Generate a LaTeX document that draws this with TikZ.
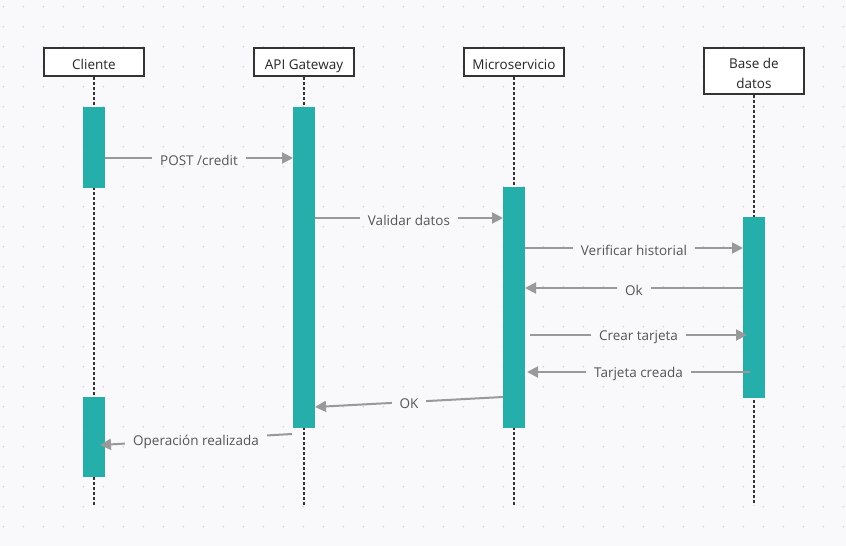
\documentclass[tikz,border=0pt]{standalone}
\usepackage{fontspec}
\setmainfont{Open Sans}
\usetikzlibrary{arrows.meta}

\definecolor{bg}{RGB}{249,249,251}
\definecolor{griddot}{RGB}{214,214,220}
\definecolor{barcol}{RGB}{38,174,170}
\definecolor{boxline}{RGB}{51,51,51}
\definecolor{arrowcol}{RGB}{153,153,153}
\definecolor{lblcol}{RGB}{85,85,85}

\tikzset{
  actor/.style={draw=boxline, line width=2pt, fill=white, minimum width=100pt,
    inner xsep=2pt, inner ysep=7pt, text height=14pt, text depth=0pt,
    align=center, text=black!85, font=\fontsize{13.5}{20}\selectfont},
  bar/.style={fill=barcol, minimum width=22pt, inner sep=0pt},
  life/.style={draw=boxline, line width=1.5pt, dash pattern=on 3pt off 2pt},
  msg/.style={draw=arrowcol, line width=2pt, -{Triangle[length=11pt,width=11pt]}},
  lbl/.style={fill=bg, text=lblcol, inner xsep=8pt, inner ysep=1pt, yshift=-2pt,
    font=\fontsize{13.5}{16}\selectfont}
}

\begin{document}
\begin{tikzpicture}[x=1pt, y=-1pt]
        % background and dot grid
        \fill[bg] (0,0) rectangle (846,546);
        \useasboundingbox (0,0) rectangle (846,546);
        \foreach \i in {0,...,42}
          \foreach \j in {0,...,26}
            \fill[griddot] (3.3+20*\i, 6.7+20*\j) circle (1pt);

        % participants
        \node[actor] (cli) at (94, 62) {Cliente};
        \node[actor] (api) at (304, 62) {API Gateway};
        \node[actor] (mic) at (514, 62) {Microservicio};
        \node[actor, text height=, text depth=, inner ysep=2pt, minimum height=46pt]
          (bd) at (754, 71) {\rule{0pt}{16pt}Base de\\datos};

        \coordinate (cliend) at (94, 505);
        \coordinate (apiend) at (304, 505);
        \coordinate (micend) at (514, 505);
        \coordinate (bdend) at (754, 505);

        \draw[life] (cli) -- (cliend);
        \draw[life] (api) -- (apiend);
        \draw[life] (mic) -- (micend);
        \draw[life] (bd) -- (bdend);

        % activation bars
        \node[bar, minimum height=81pt] (clibar1) at (94, 147.5) {};
        \node[bar, minimum height=80pt] (clibar2) at (94, 437) {};
        \node[bar, minimum height=321pt] (apibar) at (304, 267.5) {};
        \node[bar, minimum height=241pt] (micbar) at (514, 307.5) {};
        \node[bar, minimum height=181pt] (bdbar) at (754, 307.5) {};

        % message ends
        \coordinate (post0) at (105, 158);
        \coordinate (post1) at (293, 158);
        \coordinate (val0) at (315, 218);
        \coordinate (val1) at (503, 218);
        \coordinate (ver0) at (525, 248);
        \coordinate (ver1) at (743, 248);
        \coordinate (ok0) at (743, 288);
        \coordinate (ok1) at (525, 288);
        \coordinate (cre0) at (530, 335);
        \coordinate (cre1) at (747, 335);
        \coordinate (tc0) at (750, 372);
        \coordinate (tc1) at (527, 372);
        \coordinate (okb0) at (503, 397);
        \coordinate (okb1) at (315, 407);
        \coordinate (op0) at (292, 434);
        \coordinate (op1) at (100, 445);

        \draw[msg] (post0) -- node[lbl] {POST /credit} (post1);
        \draw[msg] (val0) -- node[lbl] {Validar datos} (val1);
        \draw[msg] (ver0) -- node[lbl] {Verificar historial} (ver1);
        \draw[msg] (ok0) -- node[lbl] {Ok} (ok1);
        \draw[msg] (cre0) -- node[lbl] {Crear tarjeta} (cre1);
        \draw[msg] (tc0) -- node[lbl] {Tarjeta creada} (tc1);
        \draw[msg] (okb0) -- node[lbl] {OK} (okb1);
        \draw[msg] (op0) -- node[lbl] {Operación realizada} (op1);
\end{tikzpicture}
\end{document}
